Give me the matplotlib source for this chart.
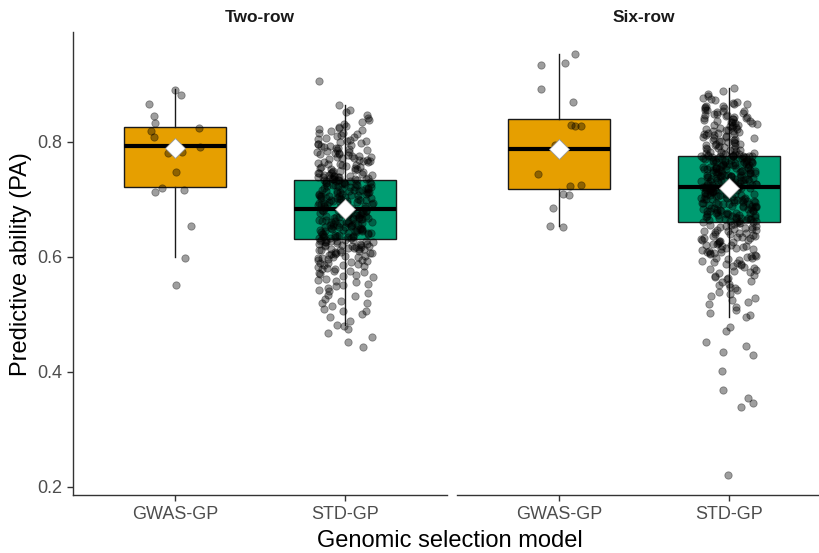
import numpy as np
import matplotlib
matplotlib.use("Agg")
import matplotlib.pyplot as plt

plt.rcParams["font.family"] = ["Liberation Sans", "DejaVu Sans"]

# ---- data ---------------------------------------------------------------
panels = ["Two-row", "Six-row"]
models = ["GWAS-GP", "STD-GP"]
model_colors = ["#E69F00", "#009E73"]

# predictive ability per run (thousandths)
two_row_gwas = [845, 890, 882, 866, 833, 824, 819, 809, 791, 783, 781, 748,
                717, 720, 713, 654, 598, 551]

two_row_std = [
    443, 452, 461, 468, 474, 479, 482, 489, 495, 501, 506, 509, 506, 515, 519,
    520, 523, 527, 531, 534, 537, 540, 543, 546, 549, 551, 553, 556, 558, 560,
    562, 564, 566, 568, 570, 571, 573, 575, 576, 578, 579, 581, 582, 584, 585,
    586, 588, 589, 590, 591, 593, 594, 595, 596, 597, 598, 599, 600, 601, 602,
    603, 604, 605, 606, 606, 607, 608, 609, 610, 611, 611, 612, 613, 614, 614,
    615, 616, 617, 617, 618, 619, 619, 620, 621, 621, 622, 623, 623, 624, 625,
    625, 626, 627, 627, 628, 628, 629, 629, 630, 630,
    632, 632, 633, 634, 634, 635, 635, 636, 637, 637, 638, 638, 639, 640, 640,
    641, 641, 642, 643, 643, 644, 644, 645, 646, 646, 647, 647, 648, 649, 649,
    650, 650, 651, 652, 652, 653, 653, 654, 655, 655, 656, 656, 657, 658, 658,
    659, 659, 660, 661, 661, 662, 662, 663, 664, 664, 665, 665, 666, 667, 667,
    668, 668, 669, 670, 670, 671, 671, 672, 673, 673, 674, 674, 675, 676, 676,
    677, 677, 678, 679, 679, 680, 680, 681, 682, 682,
    683, 684, 684, 685, 685, 686, 687, 687, 688, 688, 689, 690, 690, 691, 691,
    692, 693, 693, 694, 694, 695, 696, 696, 697, 697, 698, 699, 699, 700, 700,
    701, 702, 702, 703, 703, 704, 705, 705, 706, 706, 707, 708, 708, 709, 709,
    710, 711, 711, 712, 712, 713, 714, 714, 715, 715, 716, 717, 717, 718, 718,
    719, 720, 720, 721, 721, 722, 723, 723, 724, 724, 725, 726, 726, 727, 727,
    728, 729, 729, 730, 730, 731, 732, 732, 733, 734,
    905, 864, 856, 852, 847, 842, 838, 834, 831, 828, 826, 824, 822, 820, 818,
    816, 815, 813, 811, 810, 808, 807, 805, 804, 802, 801, 800, 798, 797, 796,
    794, 793, 792, 791, 790, 789, 787, 786, 785, 784, 783, 782, 781, 780, 779,
    778, 777, 776, 775, 774, 773, 772, 771, 770, 769, 768, 767, 766, 765, 764,
    763, 762, 761, 760, 759, 758, 757, 756, 755, 754, 753, 752, 751, 750, 749,
    748, 747, 746, 745, 745, 744, 743, 743, 742, 741, 741, 740, 739, 739, 738,
    738, 737, 737, 736, 736, 735, 735, 735, 734, 734]

six_row_gwas = [953, 937, 934, 892, 870, 830, 828, 828, 795, 744, 725, 723,
                710, 708, 685, 654, 652]

six_row_std = [
    221, 339, 346, 355, 369, 402, 430, 435, 445, 452, 471, 478,
    496, 499, 503, 508, 512, 517, 521, 525, 529, 532, 536, 539, 542, 545, 548,
    551, 553, 556, 558, 561, 563, 565, 567, 569, 571, 573, 575, 577, 579, 580,
    582, 584, 585, 587, 588, 590, 591, 593, 594, 596, 597, 598, 600, 601, 602,
    603, 605, 606, 607, 608, 609, 610, 612, 613, 614, 615, 616, 617, 618, 619,
    620, 621, 622, 623, 624, 625, 626, 627, 628, 629, 630, 631, 632, 633, 634,
    635, 636, 637, 638, 639, 640, 641, 642, 643, 644, 645, 646, 647, 648, 649,
    650, 651, 652, 653, 654, 655, 656, 657, 658, 659,
    660, 661, 661, 662, 662, 663, 664, 664, 665, 665, 666, 667, 667, 668, 668,
    669, 670, 670, 671, 671, 672, 673, 673, 674, 674, 675, 676, 676, 677, 677,
    678, 679, 679, 680, 680, 681, 682, 682, 683, 683, 684, 685, 685, 686, 686,
    687, 688, 688, 689, 689, 690, 691, 691, 692, 692, 693, 694, 694, 695, 695,
    696, 697, 697, 698, 698, 699, 700, 700, 701, 701, 702, 703, 703, 704, 704,
    705, 706, 706, 707, 707, 708, 709, 709, 710, 710, 711, 712, 712, 713, 713,
    714, 715, 715, 716, 716, 717, 718, 718, 719, 719, 720, 720, 721, 721, 721,
    722, 722, 722, 722, 722,
    723, 723, 724, 724, 725, 725, 726, 726, 727, 727, 728, 728, 729, 729, 730,
    730, 731, 731, 732, 732, 733, 733, 734, 734, 735, 735, 736, 736, 737, 737,
    738, 738, 739, 739, 740, 740, 741, 741, 742, 742, 743, 743, 744, 744, 745,
    745, 746, 746, 747, 747, 748, 748, 749, 749, 750, 750, 751, 751, 752, 752,
    753, 753, 754, 754, 755, 755, 756, 756, 757, 757, 758, 758, 759, 759, 760,
    760, 761, 761, 762, 762, 763, 763, 764, 764, 765, 765, 766, 766, 767, 767,
    768, 768, 769, 769, 770, 770, 771, 771, 772, 772, 773, 773, 774, 774, 775,
    775, 776, 776, 776, 776,
    894, 888, 883, 880, 877, 875, 872, 870, 868, 866, 865, 863, 862, 860, 859,
    858, 856, 855, 854, 853, 851, 850, 849, 848, 847, 846, 845, 844, 843, 842,
    841, 840, 839, 838, 837, 836, 835, 834, 833, 832, 831, 830, 829, 828, 827,
    826, 825, 824, 823, 822, 821, 820, 819, 818, 817, 816, 815, 814, 813, 812,
    811, 810, 809, 808, 807, 806, 805, 804, 803, 802, 801, 800, 799, 798, 797,
    796, 795, 794, 793, 792, 791, 790, 789, 788, 787, 786, 785, 784, 783, 782,
    781, 780, 779, 779, 778, 778, 777, 777, 776, 776]

# box summaries per panel: [GWAS-GP, STD-GP]
box_q1 = [[0.722, 0.631], [0.718, 0.660]]
box_med = [[0.793, 0.683], [0.788, 0.722]]
box_q3 = [[0.826, 0.734], [0.840, 0.776]]
box_whislo = [[0.600, 0.482], [0.654, 0.496]]
box_whishi = [[0.892, 0.864], [0.953, 0.894]]
box_mean = [[0.790, 0.683], [0.787, 0.720]]

points = [[two_row_gwas, two_row_std], [six_row_gwas, six_row_std]]

y_ticks = [0.2, 0.4, 0.6, 0.8]

# ---- figure -------------------------------------------------------------
W, H = 820, 553
fig = plt.figure(figsize=(W / 100, H / 100), dpi=100)
panel_px = [(73, 447), (457, 831)]
top_px, bottom_px = 32, 495

rng = np.random.default_rng(11)  # horizontal jitter only
axis_grey = "#333333"
tick_grey = "#4D4D4D"

for p, (x0, x1) in enumerate(panel_px):
    ax = fig.add_axes([x0 / W, 1 - bottom_px / H, (x1 - x0) / W,
                       (bottom_px - top_px) / H])
    positions = [1, 2]
    stats = []
    for m in range(2):
        stats.append(dict(med=box_med[p][m], q1=box_q1[p][m], q3=box_q3[p][m],
                          whislo=box_whislo[p][m], whishi=box_whishi[p][m],
                          fliers=[]))
    bp = ax.bxp(stats, positions=positions, widths=0.6, patch_artist=True,
                showcaps=False, showfliers=False,
                boxprops=dict(linewidth=1.0, edgecolor="#1A1A1A"),
                whiskerprops=dict(linewidth=1.0, color="#1A1A1A"),
                medianprops=dict(linewidth=3.0, color="black",
                                 solid_capstyle="butt"),
                zorder=1)
    for patch, col in zip(bp["boxes"], model_colors):
        patch.set_facecolor(col)

    for m in range(2):
        vals = np.asarray(points[p][m], dtype=float) / 1000.0
        jit = rng.uniform(-0.165, 0.165, size=vals.size)
        ax.scatter(positions[m] + jit, vals, s=28, facecolor="black",
                   edgecolor="black", linewidths=0.6, alpha=0.38, zorder=3)

    ax.plot(positions, box_mean[p], linestyle="none", marker="D",
            markersize=10.5, markerfacecolor="white",
            markeredgecolor="#999999", markeredgewidth=0.6, zorder=5)

    ax.set_xlim(0.4, 2.6)
    ax.set_ylim(0.1856, 0.991)
    ax.set_xticks(positions)
    ax.set_xticklabels(models, fontsize=13, color=tick_grey)
    ax.set_yticks(y_ticks)
    ax.set_yticklabels([f"{t:.1f}" for t in y_ticks], fontsize=13,
                       color=tick_grey)
    ax.tick_params(length=4, width=1.0, color=axis_grey, pad=4)
    for s in ["top", "right"]:
        ax.spines[s].set_visible(False)
    ax.spines["bottom"].set_color(axis_grey)
    ax.spines["left"].set_color(axis_grey)
    ax.spines["bottom"].set_linewidth(1.0)
    ax.spines["left"].set_linewidth(1.0)
    if p == 1:
        ax.spines["left"].set_visible(False)
        ax.tick_params(axis="y", left=False, labelleft=False)
    ax.set_facecolor("none")

    fig.text((x0 + x1) / 2 / W, 1 - 17 / H, panels[p], ha="center",
             va="center", fontsize=12.5, fontweight="bold", color="#1A1A1A")

fig.text(450 / W, 1 - 541 / H, "Genomic selection model", ha="center",
         va="center", fontsize=17, color="black")
fig.text(21 / W, 1 - 264 / H, "Predictive ability (PA)", ha="center",
         va="center", rotation=90, fontsize=17, color="black")

fig.savefig("out.png", dpi=100)
